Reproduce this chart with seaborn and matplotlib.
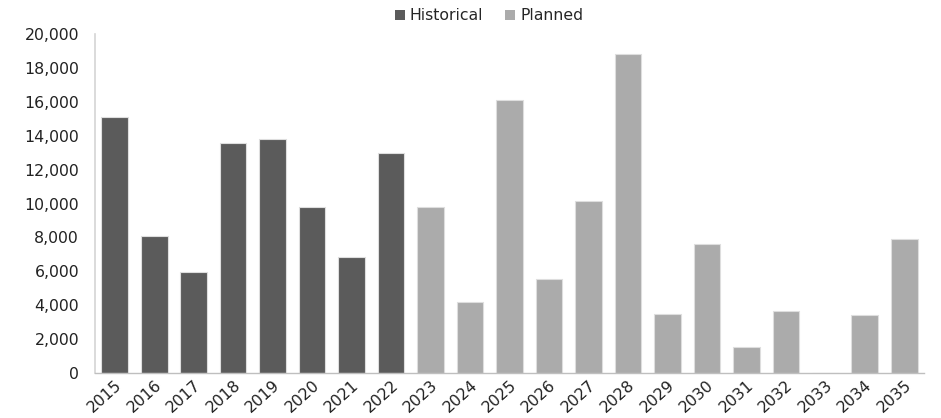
import matplotlib
matplotlib.use("Agg")
import matplotlib.pyplot as plt
import seaborn as sns
import pandas as pd
from matplotlib.ticker import FuncFormatter
from matplotlib.patches import Patch

years = [str(y) for y in range(2015, 2036)]
historical = [15100, 8090, 5970, 13550, 13820, 9770, 6830, 13000]
planned = [9770, 4210, 16090, 5570, 10120, 18840, 3460, 7640, 1510, 3640, 0, 3450, 7880]
series_names = ["Historical", "Planned"]
colors = {"Historical": "#5b5b5b", "Planned": "#ababab"}

df = pd.DataFrame({
    "year": years,
    "value": historical + planned,
    "status": [series_names[0]] * len(historical) + [series_names[1]] * len(planned),
})

sns.set_theme(style="white")
plt.rcParams["font.family"] = ["DejaVu Sans"]
fs = 11.3

fig = plt.figure(figsize=(9.41, 4.18), dpi=100)
ax = fig.add_axes([95 / 941, 1 - 373 / 418, (924 - 95) / 941, (373 - 34) / 418])

sns.barplot(data=df, x="year", y="value", hue="status", palette=colors,
            dodge=False, width=0.675, edgecolor="#dedede", linewidth=0.8,
            legend=False, ax=ax)

ax.set_ylim(0, 20000)
ax.set_xlim(-0.5, len(years) - 0.5)
ax.set_yticks(range(0, 20001, 2000))
ax.yaxis.set_major_formatter(FuncFormatter(lambda v, p: f"{int(v):,}"))
ax.set_xlabel("")
ax.set_ylabel("")
ax.tick_params(axis="both", length=0, labelsize=fs, colors="#222222")
ax.tick_params(axis="y", pad=11.5)
ax.tick_params(axis="x", pad=3)
for lab in ax.get_xticklabels():
    lab.set_rotation(42)
    lab.set_ha("right")
    lab.set_rotation_mode("anchor")

for s in ["top", "right"]:
    ax.spines[s].set_visible(False)
ax.spines["left"].set_color("#d4d4d4")
ax.spines["left"].set_linewidth(1.2)
ax.spines["bottom"].set_color("#bfbfbf")
ax.spines["bottom"].set_linewidth(1.0)

handles = [Patch(facecolor=colors[n], edgecolor="none", label=n) for n in series_names]
fig.legend(handles=handles, loc="center", bbox_to_anchor=(489 / 941, 1 - 16 / 418),
           ncol=2, frameon=False, fontsize=fs, handlelength=0.65, handleheight=0.65,
           handletextpad=0.3, columnspacing=1.4)

fig.savefig("out.png", dpi=100, facecolor="white")
